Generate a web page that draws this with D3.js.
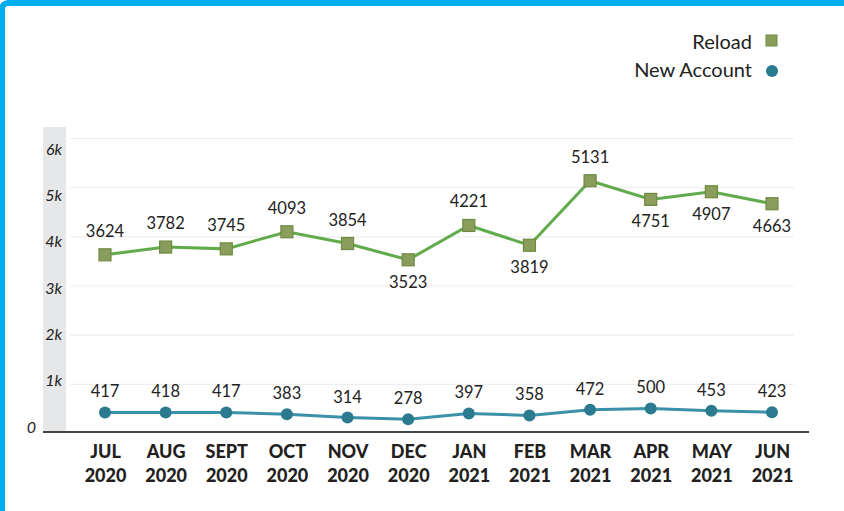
<!DOCTYPE html>
<html lang="en">
<head>
<meta charset="UTF-8"/>
<title>Reload vs New Account</title>
<script src="https://d3js.org/d3.v7.min.js"></script>
<style>
	body { margin: 0; background: #fff; font-family: Lato, "Open Sans", sans-serif; }
	#chart svg { display: block; }
</style>
</head>
<body>
<div id="chart">
<script>
	// chart data
	var months = ["JUL", "AUG", "SEPT", "OCT", "NOV", "DEC", "JAN", "FEB", "MAR", "APR", "MAY", "JUN"];
	var years = ["2020", "2020", "2020", "2020", "2020", "2020", "2021", "2021", "2021", "2021", "2021", "2021"];
	var reload = [3624, 3782, 3745, 4093, 3854, 3523, 4221, 3819, 5131, 4751, 4907, 4663];
	var newAccount = [417, 418, 417, 383, 314, 278, 397, 358, 472, 500, 453, 423];
	// which reload labels sit under the point
	var reloadBelow = [false, false, false, false, false, true, false, true, false, true, true, true];
	var yTicks = [0, 1000, 2000, 3000, 4000, 5000, 6000];
	var yTickLabels = ["0", "1k", "2k", "3k", "4k", "5k", "6k"];

	var w = 844, h = 511;

	var svg = d3.select("#chart").append("svg")
		.attr("width", w)
		.attr("height", h);

	// blue frame
	svg.append("rect")
		.attr("x", 2).attr("y", 3)
		.attr("width", w + 20).attr("height", h + 20)
		.attr("rx", 6)
		.attr("fill", "none")
		.attr("stroke", "#00aeef")
		.attr("stroke-width", 6);

	var xScale = d3.scalePoint()
		.domain(months)
		.range([105, 772]);

	var yScale = d3.scaleLinear()
		.domain([0, 6000])
		.range([433, 138]);

	// tick labels in the original are spaced a little tighter than the grid
	var yLabelScale = d3.scaleLinear()
		.domain([0, 6000])
		.range([427, 149]);

	// grey band behind the y labels
	svg.append("rect")
		.attr("x", 43).attr("y", 127)
		.attr("width", 23).attr("height", 305)
		.attr("fill", "#e6e7e8");

	// gridlines
	var grid = svg.append("g")
		.attr("transform", "translate(70,0)")
		.call(d3.axisLeft(yScale).tickValues(yTicks.slice(1)).tickSize(-724).tickFormat(""));
	grid.select(".domain").remove();
	grid.selectAll("line").attr("stroke", "#eeeeee").attr("stroke-width", 1.2);

	// y labels
	var yAx = svg.append("g")
		.attr("transform", "translate(62,0)")
		.call(d3.axisLeft(yLabelScale).tickValues(yTicks).tickSize(0).tickPadding(0)
			.tickFormat(function(d, i) { return yTickLabels[i]; }));
	yAx.select(".domain").remove();
	yAx.selectAll("text")
		.attr("font-family", "Lato, sans-serif")
		.attr("font-style", "italic")
		.attr("font-size", "16px")
		.attr("fill", "#222")
		.attr("dx", function(d) { return d === 0 ? -26 : 0; });

	// x axis with two-line labels
	var xAx = svg.append("g")
		.attr("transform", "translate(0,432)")
		.call(d3.axisBottom(xScale).tickSize(0).tickPadding(0));
	xAx.select(".domain").remove();
	xAx.selectAll("text").each(function(d, i) {
		var t = d3.select(this).text(null).attr("y", 0).attr("dy", null)
			.attr("font-family", "Lato, sans-serif")
			.attr("font-weight", 900)
			.attr("font-size", "18px")
			.attr("fill", "#231f20");
		t.append("tspan").attr("x", 0).attr("y", 26).text(months[i]);
		t.append("tspan").attr("x", 0).attr("y", 50).text(years[i]);
	});

	svg.append("line")
		.attr("x1", 43).attr("x2", 809)
		.attr("y1", 432).attr("y2", 432)
		.attr("stroke", "#444")
		.attr("stroke-width", 2);

	var line = d3.line()
		.x(function(d, i) { return xScale(months[i]); })
		.y(function(d) { return yScale(d); });

	// Reload series
	svg.append("path")
		.datum(reload)
		.attr("d", line)
		.attr("fill", "none")
		.attr("stroke", "#62ab4c")
		.attr("stroke-width", 3);

	svg.selectAll(".sq")
		.data(reload)
		.enter()
		.append("rect")
		.attr("class", "sq")
		.attr("x", function(d, i) { return xScale(months[i]) - 6; })
		.attr("y", function(d) { return yScale(d) - 6; })
		.attr("width", 12).attr("height", 12)
		.attr("fill", "#8b9d5c")
		.attr("stroke", "#6e8a3f")
		.attr("stroke-width", 1.2);

	svg.selectAll(".rl")
		.data(reload)
		.enter()
		.append("text")
		.attr("class", "rl")
		.attr("x", function(d, i) { return xScale(months[i]); })
		.attr("y", function(d, i) { return yScale(d) + (reloadBelow[i] ? 28 : -18); })
		.attr("text-anchor", "middle")
		.attr("font-size", "16.5px")
		.attr("fill", "#222")
		.text(function(d) { return d; });

	// New Account series
	svg.append("path")
		.datum(newAccount)
		.attr("d", line)
		.attr("fill", "none")
		.attr("stroke", "#3b90aa")
		.attr("stroke-width", 3);

	svg.selectAll(".dot")
		.data(newAccount)
		.enter()
		.append("circle")
		.attr("class", "dot")
		.attr("cx", function(d, i) { return xScale(months[i]); })
		.attr("cy", function(d) { return yScale(d); })
		.attr("r", 6)
		.attr("fill", "#2b7a8f");

	svg.selectAll(".nl")
		.data(newAccount)
		.enter()
		.append("text")
		.attr("class", "nl")
		.attr("x", function(d, i) { return xScale(months[i]); })
		.attr("y", function(d) { return yScale(d) - 15; })
		.attr("text-anchor", "middle")
		.attr("font-size", "16.5px")
		.attr("fill", "#222")
		.text(function(d) { return d; });

	// legend
	var legend = svg.append("g");
	legend.append("text")
		.attr("x", 752).attr("y", 49)
		.attr("text-anchor", "end")
		.attr("font-size", "20px")
		.attr("fill", "#222")
		.text("Reload");
	legend.append("rect")
		.attr("x", 766).attr("y", 35)
		.attr("width", 11).attr("height", 11)
		.attr("fill", "#8b9d5c")
		.attr("stroke", "#6e8a3f");
	legend.append("text")
		.attr("x", 752).attr("y", 77)
		.attr("text-anchor", "end")
		.attr("font-size", "20px")
		.attr("fill", "#222")
		.text("New Account");
	legend.append("circle")
		.attr("cx", 772).attr("cy", 71)
		.attr("r", 6)
		.attr("fill", "#2b7a8f");
</script>
</div>
</body>
</html>
